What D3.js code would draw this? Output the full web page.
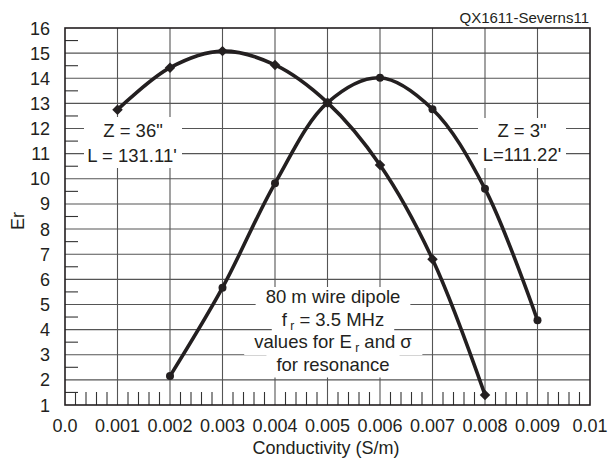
<!DOCTYPE html>
<html><head><meta charset="utf-8">
<script src="https://cdn.jsdelivr.net/npm/d3@7"></script>
<style>body{margin:0;background:#fff}svg{display:block}text{font-family:"Liberation Sans",Arial,sans-serif;fill:#231f20}</style>
</head><body>
<script>
const xTicks = [0,0.001,0.002,0.003,0.004,0.005,0.006,0.007,0.008,0.009,0.01];
const xTickLabels = ["0.0","0.001","0.002","0.003","0.004","0.005","0.006","0.007","0.008","0.009","0.01"];
const yTicks = [1,2,3,4,5,6,7,8,9,10,11,12,13,14,15,16];
const z36X = [0.001,0.002,0.003,0.004,0.005,0.006,0.007,0.008];
const z36Y = [12.75,14.42,15.08,14.53,13.03,10.55,6.8,1.4];
const z3X = [0.002,0.003,0.004,0.005,0.006,0.007,0.008,0.009];
const z3Y = [2.15,5.67,9.82,13.03,14.02,12.77,9.6,4.37];

const W=609,H=460, L=65,R=590,T=28,B=405;
const svg=d3.select("body").append("svg").attr("width",W).attr("height",H);
const x=d3.scaleLinear().domain([0,0.01]).range([L,R]);
const y=d3.scaleLinear().domain([1,16]).range([B,T]);
const ink="#231f20";

// grid
const g=svg.append("g");
g.selectAll(".vg").data(xTicks.slice(1,-1)).join("line")
 .attr("x1",d=>x(d)).attr("x2",d=>x(d)).attr("y1",T).attr("y2",B)
 .attr("stroke","#555").attr("stroke-width",1.1);
g.selectAll(".hg").data(yTicks.slice(1,-1)).join("line")
 .attr("y1",d=>y(d)).attr("y2",d=>y(d)).attr("x1",L).attr("x2",R)
 .attr("stroke","#555").attr("stroke-width",1.1);
// minor ticks
const yMinor=d3.range(1.5,16,1);
g.selectAll(".ym").data(yMinor).join("line")
 .attr("y1",d=>y(d)).attr("y2",d=>y(d)).attr("x1",L).attr("x2",L+13)
 .attr("stroke","#333").attr("stroke-width",1.1);
const xMinor=d3.range(0,50).map(i=>i*0.0002).filter((d,i)=>i%5!==0);
g.selectAll(".xm").data(xMinor).join("line")
 .attr("x1",d=>x(d)).attr("x2",d=>x(d)).attr("y1",B).attr("y2",B-13)
 .attr("stroke","#333").attr("stroke-width",1.1);

// axes labels
svg.selectAll(".yl").data(yTicks).join("text")
 .attr("x",50).attr("y",d=>y(d)+6.5).attr("text-anchor","end").attr("font-size",18).text(d=>d);
svg.selectAll(".xl").data(xTicks).join("text")
 .attr("x",d=>x(d)).attr("y",432).attr("text-anchor","middle").attr("font-size",18)
 .text((d,i)=>xTickLabels[i]);
svg.append("text").attr("x",326).attr("y",454).attr("text-anchor","middle").attr("font-size",18).text("Conductivity (S/m)");
svg.append("text").attr("transform","translate(24,221) rotate(-90)").attr("text-anchor","middle").attr("font-size",18).text("Er");
svg.append("text").attr("x",589).attr("y",23).attr("text-anchor","end").attr("font-size",15).text("QX1611-Severns11");

// annotation boxes
function box(x0,y0,x1,y1){svg.append("rect").attr("x",x0).attr("y",y0).attr("width",x1-x0).attr("height",y1-y0).attr("fill","#fff");}
box(84,117,182,168);
box(478,118,566,168);
svg.append("text").attr("x",133).attr("y",137).attr("text-anchor","middle").attr("font-size",18.5).text('Z = 36"');
svg.append("text").attr("x",132).attr("y",162).attr("text-anchor","middle").attr("font-size",18.5).text("L = 131.11'");
svg.append("text").attr("x",522).attr("y",137).attr("text-anchor","middle").attr("font-size",18.5).text('Z = 3"');
svg.append("text").attr("x",522).attr("y",161).attr("text-anchor","middle").attr("font-size",18.5).text("L=111.22'");

const cx=333, base=[303,325.5,348,370.5];
const cg=svg.append("g");
const lines=[
 [["80 m wire dipole",null]],
 [["f",null],[" r",true],[" = 3.5 MHz",null]],
 [["values for E",null],[" r",true],[" and σ",null]],
 [["for resonance",null]]
];
const texts=lines.map((segs,i)=>{
  const t=cg.append("text").attr("x",cx).attr("y",base[i]).attr("text-anchor","middle").attr("font-size",18.5);
  segs.forEach(([s,sub])=>{
    const ts=t.append("tspan").text(s);
    if(sub){ts.attr("font-size",12).attr("dy",4);} 
  });
  t.selectAll("tspan").each(function(d,j){
    const sub=segs[j][1]; const prev=j>0?segs[j-1][1]:null;
    if(!sub && prev) d3.select(this).attr("dy",-4);
  });
  return t;
});
texts.forEach((t,i)=>{
  const bb=t.node().getBBox();
  cg.insert("rect","text").attr("x",bb.x-10).attr("y",base[i]-16).attr("width",bb.width+20).attr("height",23).attr("fill","#fff");
});

// border
svg.append("rect").attr("x",L).attr("y",T).attr("width",R-L).attr("height",B-T)
 .attr("fill","none").attr("stroke",ink).attr("stroke-width",1.6);

// series
const line=d3.line().x(d=>x(d[0])).y(d=>y(d[1])).curve(d3.curveCatmullRom.alpha(0.5));
const s1=z36X.map((v,i)=>[v,z36Y[i]]);
const s2=z3X.map((v,i)=>[v,z3Y[i]]);
svg.append("path").attr("d",line(s1)).attr("fill","none").attr("stroke",ink).attr("stroke-width",3.6);
svg.append("path").attr("d",line(s2)).attr("fill","none").attr("stroke",ink).attr("stroke-width",3.6);
svg.selectAll(".m1").data(s1).join("path")
 .attr("d",d3.symbol(d3.symbolDiamond2,70)())
 .attr("transform",d=>`translate(${x(d[0])},${y(d[1])})`).attr("fill",ink);
svg.selectAll(".m2").data(s2).join("circle")
 .attr("cx",d=>x(d[0])).attr("cy",d=>y(d[1])).attr("r",4).attr("fill",ink);
</script>
</body></html>
